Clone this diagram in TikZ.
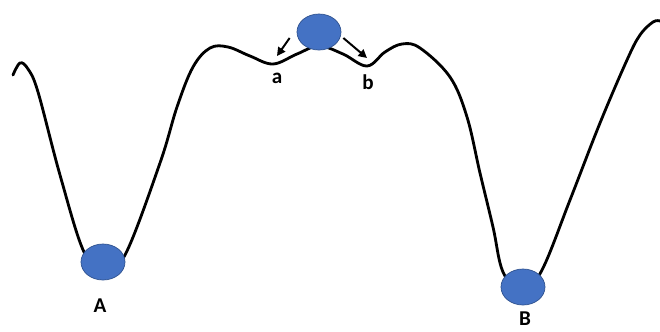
\documentclass[tikz,border=0pt]{standalone}
\usepackage{fontspec}
\setmainfont{Carlito}
\usepackage{xcolor}
\definecolor{ballblue}{RGB}{68, 114, 196}
\definecolor{balledge}{RGB}{47, 82, 143}
\usetikzlibrary{shapes.geometric, arrows.meta}

\begin{document}
\begin{tikzpicture}[x=0.025cm, y=-0.025cm,
      ball/.style={ellipse, draw=balledge, fill=ballblue, line width=0.5pt, minimum width=1.1cm, minimum height=0.9cm, inner sep=0pt},
      lbl/.style={font=\fontsize{15}{18}\selectfont\bfseries, text=black},
      land/.style={line width=2pt, black, line cap=round},
      arr/.style={-{Triangle[length=6pt, width=6pt]}, line width=1.4pt, black}
  ]
    \useasboundingbox (0,0) rectangle (660,331);

    % Landscape
    \draw[land] plot[smooth, tension=0.6] coordinates {
      (13,75) (20,63) (28,69) (38,92) (60,175) (84,252) (104,268) (125,255)
      (160,163) (177,107) (193,67) (210,48) (228,47) (250,56) (273,64) (297,54)
      (319,46) (343,54) (367,66) (385,52) (402,44) (420,48) (450,77) (467,117)
      (480,173) (493,227) (503,272) (522,292) (542,270) (570,200) (600,123)
      (627,60) (640,35) (653,22) (660,21)};

    % Balls
    \node[ball] (ballA) at (103,262) {};
    \node[ball] (ballB) at (523,287) {};
    \node[ball] (ballT) at (319,32) {};

    % Labels
    \node[lbl] (labA) at (100,306) {A};
    \node[lbl] (labB) at (525,319) {B};
    \node[lbl] (laba) at (277,78) {a};
    \node[lbl] (labb) at (368,82) {b};

    % Arrows
    \coordinate (ta) at (277,56);
    \coordinate (tb) at (367,58);
    \draw[arr] ([shift={(-7,6)}]ballT.west) -- (ta);
    \draw[arr] ([shift={(2,6)}]ballT.east) -- (tb);
  \end{tikzpicture}
\end{document}
